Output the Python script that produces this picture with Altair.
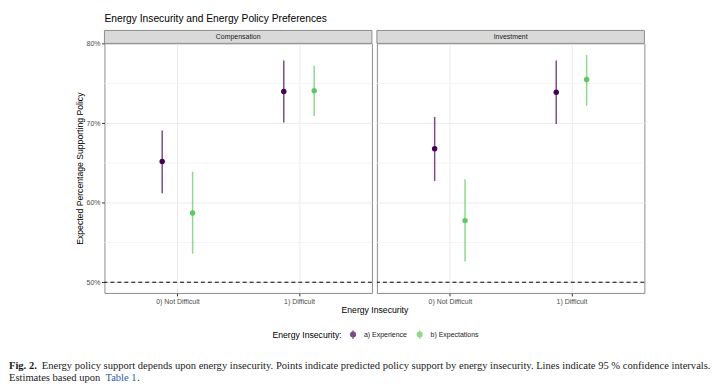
import altair as alt
import pandas as pd

panels = ["Compensation", "Investment"]
categories = ["0) Not Difficult", "1) Difficult"]
series = ["a) Experience", "b) Expectations"]
colors = ["#440154", "#5ec962"]

# point estimates (percent) per category, by panel and series
comp_experience = [65.2, 74.0]
comp_experience_lo = [61.2, 70.1]
comp_experience_hi = [69.1, 77.9]
comp_expectations = [58.7, 74.1]
comp_expectations_lo = [53.6, 70.9]
comp_expectations_hi = [63.9, 77.25]

inv_experience = [66.8, 73.9]
inv_experience_lo = [62.75, 69.9]
inv_experience_hi = [70.8, 77.9]
inv_expectations = [57.75, 75.5]
inv_expectations_lo = [52.6, 72.2]
inv_expectations_hi = [62.95, 78.6]

ref_line = [50]
major_ticks = [50, 60, 70, 80]
minor_ticks = [55, 65, 75]

title_text = "Energy Insecurity and Energy Policy Preferences"
caption_bold = "Fig. 2."
caption_line1 = ("Energy policy support depends upon energy insecurity. Points indicate predicted "
                 "policy support by energy insecurity. Lines indicate 95 % confidence intervals.")
caption_line2a = "Estimates based upon"
caption_link = "Table 1"
caption_end = "."

rows = []
tables = {
    ("Compensation", series[0]): (comp_experience, comp_experience_lo, comp_experience_hi),
    ("Compensation", series[1]): (comp_expectations, comp_expectations_lo, comp_expectations_hi),
    ("Investment", series[0]): (inv_experience, inv_experience_lo, inv_experience_hi),
    ("Investment", series[1]): (inv_expectations, inv_expectations_lo, inv_expectations_hi),
}
for (p, s), (est, lo, hi) in tables.items():
    for i, c in enumerate(categories):
        rows.append({"panel": p, "series": s, "category": c, "cat_index": i + 1,
                     "y": est[i], "lo": lo[i], "hi": hi[i]})
df = pd.DataFrame(rows)

W, H = 269, 251
FONT = "Liberation Sans"
SERIF = "Liberation Serif"
DODGE = 0.125

yscale = alt.Scale(domain=[48.65, 80.05], nice=False, zero=False)
xscale = alt.Scale(domain=[0.4, 2.6], nice=False, zero=False)
color_scale = alt.Scale(domain=series, range=colors)

label_expr = "[" + ",".join("'" + c + "'" for c in categories) + "][datum.value - 1]"

symbol_path = ("M0,-1L0,1M-0.55,0a0.55,0.55 0 1,0 1.1,0a0.55,0.55 0 1,0 -1.1,0")

legend = alt.Legend(
    title="Energy Insecurity:", orient="none", legendX=169, legendY=287.5,
    direction="horizontal", titleOrient="left", symbolType=symbol_path,
    symbolSize=72, symbolStrokeWidth=1.5, labelFontSize=7, labelFont=FONT,
    titleFontSize=8.7, titleFont=FONT, titleFontWeight="normal", titleColor="black",
    labelColor="#1a1a1a", columnPadding=6, labelOffset=6, symbolOffset=0, titlePadding=6,
)


def make_panel(name, first):
    d = df[df.panel == name]
    xaxis = alt.Axis(values=[1, 2], labelExpr=label_expr, grid=True, gridColor="#ebebeb",
                     domain=False, tickColor="#333333", tickSize=3, labelColor="#4d4d4d",
                     labelFontSize=7, labelFont=FONT, labelPadding=1.5,
                     title="Energy Insecurity" if first else None,
                     titleFontSize=8.7, titleFont=FONT, titleFontWeight="normal",
                     titleColor="black", titleX=W + 2.5, titlePadding=1.5)
    if first:
        yaxis = alt.Axis(values=major_ticks, labelExpr="datum.value + '%'", grid=True,
                         gridColor="#ebebeb", domain=False, tickColor="#333333", tickSize=3,
                         labelColor="#4d4d4d", labelFontSize=7, labelFont=FONT,
                         labelPadding=1.5, title="Expected Percentage Supporting Policy",
                         titleFontSize=8.7, titleFont=FONT, titleFontWeight="normal",
                         titleColor="black", titlePadding=2)
    else:
        yaxis = alt.Axis(values=major_ticks, grid=True, gridColor="#ebebeb", domain=False,
                         ticks=False, labels=False, title=None)

    minor = alt.Chart(pd.DataFrame({"y": minor_ticks})).mark_rule(
        color="#f3f3f3", strokeWidth=0.8).encode(y=alt.Y("y:Q", scale=yscale, axis=yaxis))

    ref = alt.Chart(pd.DataFrame({"y": ref_line})).mark_rule(
        color="black", strokeDash=[4, 3], strokeWidth=1).encode(y=alt.Y("y:Q", scale=yscale))

    base = alt.Chart(d).transform_calculate(
        xpos=f"datum.cat_index + (datum.series == '{series[0]}' ? {-DODGE} : {DODGE})")

    bars = base.mark_rule(strokeWidth=1.5, opacity=0.7).encode(
        x=alt.X("xpos:Q", scale=xscale, axis=xaxis),
        y=alt.Y("lo:Q", scale=yscale),
        y2="hi:Q",
        color=alt.Color("series:N", scale=color_scale, legend=legend),
    )
    pts = base.mark_circle(size=30, opacity=1).encode(
        x=alt.X("xpos:Q", scale=xscale),
        y=alt.Y("y:Q", scale=yscale),
        color=alt.Color("series:N", scale=color_scale, legend=legend),
    )

    strip_df = pd.DataFrame({"panel": [name]})
    strip = alt.Chart(strip_df).mark_rect(fill="#d9d9d9", stroke="#8c8c8c", strokeWidth=1).encode(
        x=alt.value(0), x2=alt.value(W), y=alt.value(-13), y2=alt.value(0))
    strip_text = alt.Chart(strip_df).mark_text(fontSize=7, font=FONT, color="#1a1a1a").encode(
        text="panel:N", x=alt.value(W / 2), y=alt.value(-6.5))

    layers = [minor, ref, bars, pts, strip, strip_text]

    if first:
        def cap(txt, x, y, **kw):
            return alt.Chart(pd.DataFrame({"t": [txt]})).mark_text(
                font=SERIF, fontSize=10.6, align="left", baseline="middle", **kw
            ).encode(text="t:N", x=alt.value(x), y=alt.value(y))
        layers += [
            cap(caption_bold, -96, 324, fontWeight="bold", color="#1a1a1a"),
            cap(caption_line1, -63, 324, color="#1a1a1a"),
            cap(caption_line2a, -96, 336.5, color="#1a1a1a"),
            cap(caption_link, 1, 336.5, color="#2a5aa8"),
            cap(caption_end, 33, 336.5, color="#1a1a1a"),
        ]

    ch = alt.layer(*layers).properties(width=W, height=H)
    if first:
        ch = ch.properties(title=alt.TitleParams(
            title_text, anchor="start", fontSize=10.3, font=FONT, fontWeight="normal",
            color="black", offset=6, frame="group"))
    return ch


chart = alt.hconcat(
    make_panel(panels[0], True), make_panel(panels[1], False),
    spacing=5, bounds="flush",
).resolve_scale(color="shared").configure_view(
    stroke="#8c8c8c", strokeWidth=1
).properties(padding={"left": 0, "top": 3.5, "right": 0, "bottom": 0})

chart.save("out.html", embed_options={"renderer": "svg", "actions": False})
